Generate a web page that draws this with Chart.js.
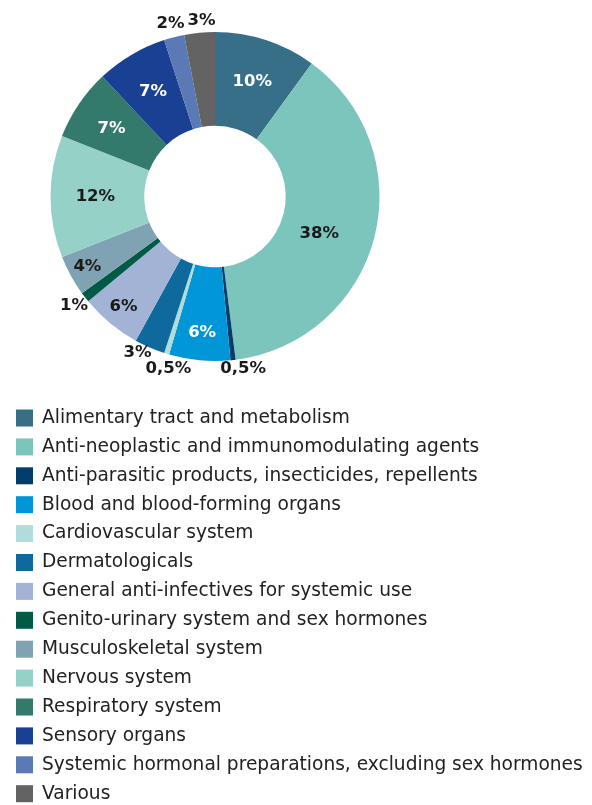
<!DOCTYPE html>
<html>
<head>
<meta charset="utf-8">
<script src="https://cdn.jsdelivr.net/npm/chart.js@4.4.1/dist/chart.umd.min.js"></script>
<style>
  html, body { margin: 0; padding: 0; background: #ffffff; }
  #wrap { position: relative; width: 592px; height: 805px; }
</style>
</head>
<body>
<div id="wrap"><canvas id="c" width="592" height="805"></canvas></div>
<script>
const categories = [
  "Alimentary tract and metabolism",
  "Anti-neoplastic and immunomodulating agents",
  "Anti-parasitic products, insecticides, repellents",
  "Blood and blood-forming organs",
  "Cardiovascular system",
  "Dermatologicals",
  "General anti-infectives for systemic use",
  "Genito-urinary system and sex hormones",
  "Musculoskeletal system",
  "Nervous system",
  "Respiratory system",
  "Sensory organs",
  "Systemic hormonal preparations, excluding sex hormones",
  "Various"
];
const shares = [10, 38, 0.5, 6, 0.5, 3, 6, 1, 4, 12, 7, 7, 2, 3];
const shareLabels = ["10%", "38%", "0,5%", "6%", "0,5%", "3%", "6%", "1%", "4%", "12%", "7%", "7%", "2%", "3%"];
const colors = ["#376f88", "#7cc5bc", "#033d6b", "#0096d8", "#b0dcdb", "#0e6a9c", "#a3b3d5",
                "#005a45", "#7fa3b2", "#96d1c8", "#33796c", "#1a4094", "#5a79b5", "#636363"];
const labelColors = ["#ffffff", "#1a1a1a", "#1a1a1a", "#ffffff", "#1a1a1a", "#1a1a1a", "#1a1a1a",
                     "#1a1a1a", "#1a1a1a", "#1a1a1a", "#ffffff", "#ffffff", "#1a1a1a", "#1a1a1a"];
const outsideLabel = [false, false, true, false, true, true, false, true, false, false, false, false, true, true];
// label placement tweaks (style only): radial shift in px, angular shift in degrees
const labelRadialShift = [3, -7, 10, 19, 14, 10, 26, 14, 28, 2, 6, 4, 14, 12];
const labelAngleShift  = [0, 5, -3, 0, -2, 3, 0, 0, 0, 0, -1, 0, 0, 1];

const sliceLabels = {
  id: 'sliceLabels',
  afterDatasetsDraw(chart) {
    const ctx = chart.ctx;
    const meta = chart.getDatasetMeta(0);
    ctx.save();
    ctx.font = 'bold 16.5px "DejaVu Sans", Verdana, sans-serif';
    ctx.textAlign = 'center';
    ctx.textBaseline = 'middle';
    meta.data.forEach((arc, i) => {
      const p = arc.getProps(['x', 'y', 'startAngle', 'endAngle', 'innerRadius', 'outerRadius'], true);
      const mid = (p.startAngle + p.endAngle) / 2 + labelAngleShift[i] * Math.PI / 180;
      const base = outsideLabel[i] ? p.outerRadius : (p.innerRadius + p.outerRadius) / 2;
      const r = base + labelRadialShift[i];
      const x = p.x + Math.cos(mid) * r;
      const y = p.y + Math.sin(mid) * r;
      ctx.fillStyle = labelColors[i];
      ctx.fillText(shareLabels[i], x, y);
    });
    ctx.restore();
  }
};

const listLegend = {
  id: 'listLegend',
  afterDraw(chart) {
    const ctx = chart.ctx;
    ctx.save();
    ctx.font = '18.6px "DejaVu Sans", Verdana, sans-serif';
    ctx.textBaseline = 'middle';
    ctx.textAlign = 'left';
    const top = 418, step = 28.9;
    chart.data.labels.forEach((lab, i) => {
      const y = top + i * step;
      ctx.fillStyle = chart.data.datasets[0].backgroundColor[i];
      ctx.fillRect(16, y - 8.5, 17, 17);
      ctx.fillStyle = '#222222';
      ctx.fillText(lab, 42, y);
    });
    ctx.restore();
  }
};

new Chart(document.getElementById('c'), {
  type: 'doughnut',
  data: {
    labels: categories,
    datasets: [{
      data: shares,
      backgroundColor: colors,
      borderWidth: 0
    }]
  },
  options: {
    responsive: false,
    animation: false,
    cutout: '43%',
    layout: { padding: { left: 50, right: 212, top: 32, bottom: 444 } },
    plugins: {
      legend: { display: false },
      tooltip: { enabled: false }
    }
  },
  plugins: [sliceLabels, listLegend]
});
</script>
</body>
</html>
